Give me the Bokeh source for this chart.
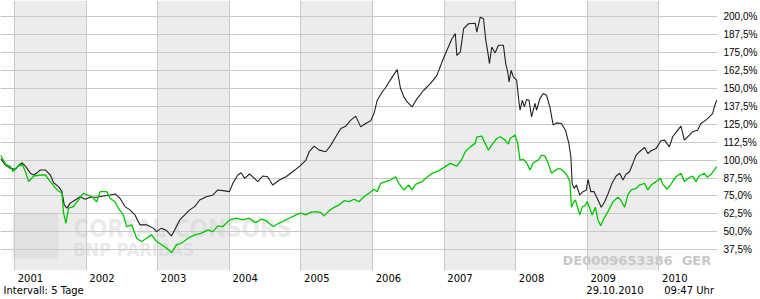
from bokeh.plotting import figure
from bokeh.models import Range1d, FixedTicker, LinearAxis
from bokeh.core.properties import value
from bokeh.embed import file_html
from bokeh.resources import INLINE

# ---- data (decimal years, performance in %) ----
fund_t = [2000.805, 2000.875, 2000.944, 2001.014, 2001.06, 2001.107, 2001.153, 2001.223, 2001.268, 2001.316,
          2001.362, 2001.431, 2001.501, 2001.547, 2001.616, 2001.663, 2001.695, 2001.733, 2001.779, 2001.848,
          2001.918, 2001.987, 2002.057, 2002.150, 2002.242, 2002.335, 2002.405, 2002.474, 2002.544, 2002.613,
          2002.683, 2002.752, 2002.846, 2002.937, 2002.985, 2003.054, 2003.124, 2003.193, 2003.239, 2003.309,
          2003.378, 2003.448, 2003.517, 2003.587, 2003.680, 2003.772, 2003.841, 2003.911, 2004.004, 2004.050,
          2004.120, 2004.167, 2004.213, 2004.282, 2004.352, 2004.398, 2004.467, 2004.537, 2004.606, 2004.700,
          2004.793, 2004.885, 2004.978, 2005.071, 2005.117, 2005.186, 2005.256, 2005.349, 2005.419, 2005.488,
          2005.558, 2005.627, 2005.697, 2005.766, 2005.836, 2005.905, 2005.975, 2006.021, 2006.067, 2006.136,
          2006.184, 2006.253, 2006.345, 2006.392, 2006.438, 2006.484, 2006.554, 2006.623, 2006.716, 2006.809,
          2006.901, 2006.971, 2007.040, 2007.110, 2007.157, 2007.179, 2007.227, 2007.273, 2007.342, 2007.435,
          2007.458, 2007.505, 2007.551, 2007.583, 2007.611, 2007.634, 2007.666, 2007.713, 2007.759, 2007.829,
          2007.861, 2007.889, 2007.908, 2007.936, 2007.968, 2008.014, 2008.038, 2008.061, 2008.093, 2008.121,
          2008.153, 2008.186, 2008.222, 2008.270, 2008.292, 2008.339, 2008.385, 2008.431, 2008.478, 2008.524,
          2008.570, 2008.640, 2008.696, 2008.743, 2008.771, 2008.789, 2008.816, 2008.848, 2008.895, 2008.941,
          2008.987, 2009.011, 2009.049, 2009.095, 2009.150, 2009.196, 2009.243, 2009.289, 2009.345, 2009.404,
          2009.452, 2009.498, 2009.544, 2009.591, 2009.637, 2009.683, 2009.730, 2009.800, 2009.846, 2009.892,
          2009.961, 2010.031, 2010.078, 2010.147, 2010.193, 2010.263, 2010.309, 2010.356, 2010.402, 2010.471,
          2010.541, 2010.587, 2010.656, 2010.704, 2010.750, 2010.782, 2010.809]
fund_v = [101.0, 96.5, 94.2, 93.5, 96.5, 98.1, 95.8, 90.8, 89.6, 91.2,
          93.1, 93.1, 89.6, 84.2, 81.5, 78.0, 68.75, 66.5, 70.0, 72.2,
          74.5, 72.7, 74.1, 74.1, 75.0, 75.7, 76.4, 73.4, 67.6, 65.3,
          61.8, 54.9, 54.9, 52.6, 50.2, 52.6, 50.9, 47.2, 51.4, 58.3,
          61.8, 65.3, 67.6, 72.2, 74.5, 75.7, 79.2, 78.7, 78.0, 83.8,
          89.6, 91.2, 87.3, 90.3, 87.3, 85.0, 88.9, 88.4, 82.6, 86.1,
          88.4, 91.9, 95.4, 100.0, 105.8, 109.7, 106.9, 105.8, 110.4, 116.2,
          122.0, 123.6, 127.8, 130.6, 123.1, 125.5, 127.3, 132.4, 141.7, 147.4,
          150.5, 156.0, 163.0, 149.8, 144.0, 140.5, 137.0, 142.8, 148.6, 153.2,
          159.0, 168.3, 176.4, 184.5, 188.0, 172.9, 175.2, 191.5, 194.9, 195.3,
          189.1, 199.5, 198.4, 183.3, 175.2, 167.2, 178.7, 174.5, 179.9, 179.9,
          167.2, 161.3, 154.4, 162.5, 157.9, 155.6, 144.0, 134.7, 141.7, 137.0,
          142.2, 141.7, 130.1, 139.4, 134.7, 142.8, 146.3, 145.1, 137.0, 124.3,
          125.9, 125.5, 120.8, 111.6, 102.3, 83.8, 80.3, 82.6, 75.7, 78.0,
          79.2, 86.6, 78.0, 78.0, 72.2, 67.1, 71.0, 76.4, 83.8, 88.9,
          90.8, 86.1, 90.3, 91.9, 97.7, 103.5, 105.8, 108.8, 104.6, 106.5,
          108.1, 113.4, 113.9, 109.2, 116.2, 120.8, 123.6, 113.9, 116.2, 119.7,
          120.8, 125.5, 127.8, 130.1, 132.4, 138.2, 141.7]

bench_t = [2000.805, 2000.875, 2000.944, 2000.982, 2001.038, 2001.107, 2001.153, 2001.199, 2001.268, 2001.362,
           2001.431, 2001.501, 2001.594, 2001.663, 2001.686, 2001.719, 2001.755, 2001.825, 2001.894, 2001.964,
           2002.011, 2002.081, 2002.150, 2002.196, 2002.289, 2002.335, 2002.405, 2002.451, 2002.520, 2002.567,
           2002.637, 2002.707, 2002.776, 2002.846, 2002.915, 2002.985, 2003.054, 2003.124, 2003.193, 2003.263,
           2003.332, 2003.424, 2003.517, 2003.611, 2003.702, 2003.772, 2003.841, 2003.911, 2004.004, 2004.097,
           2004.189, 2004.282, 2004.338, 2004.376, 2004.445, 2004.515, 2004.561, 2004.616, 2004.676, 2004.745,
           2004.839, 2004.932, 2005.001, 2005.071, 2005.140, 2005.210, 2005.280, 2005.325, 2005.395, 2005.465,
           2005.534, 2005.604, 2005.673, 2005.743, 2005.812, 2005.882, 2005.951, 2006.021, 2006.067, 2006.114,
           2006.184, 2006.253, 2006.323, 2006.369, 2006.438, 2006.508, 2006.554, 2006.601, 2006.693, 2006.762,
           2006.832, 2006.925, 2007.018, 2007.087, 2007.179, 2007.249, 2007.296, 2007.366, 2007.435, 2007.458,
           2007.527, 2007.574, 2007.620, 2007.666, 2007.736, 2007.783, 2007.852, 2007.898, 2007.922, 2007.992,
           2008.028, 2008.061, 2008.107, 2008.153, 2008.200, 2008.246, 2008.316, 2008.362, 2008.409, 2008.455,
           2008.501, 2008.570, 2008.618, 2008.677, 2008.723, 2008.757, 2008.779, 2008.803, 2008.835, 2008.896,
           2008.932, 2008.965, 2009.001, 2009.035, 2009.067, 2009.113, 2009.150, 2009.188, 2009.234, 2009.289,
           2009.359, 2009.428, 2009.466, 2009.521, 2009.567, 2009.613, 2009.683, 2009.730, 2009.800, 2009.846,
           2009.892, 2009.961, 2010.022, 2010.054, 2010.114, 2010.170, 2010.239, 2010.309, 2010.356, 2010.411,
           2010.471, 2010.517, 2010.563, 2010.633, 2010.678, 2010.748, 2010.809]
bench_v = [103.5, 97.2, 95.4, 91.9, 95.4, 97.2, 91.9, 85.0, 88.9, 89.6,
           89.6, 85.0, 79.2, 76.9, 63.0, 56.0, 66.5, 67.6, 72.2, 76.9,
           75.7, 74.5, 71.0, 78.0, 78.0, 73.4, 71.0, 66.5, 61.8, 53.7,
           54.9, 45.6, 43.3, 45.6, 47.9, 43.3, 41.0, 38.7, 35.6, 41.0,
           42.1, 45.6, 47.9, 49.1, 51.4, 50.2, 54.2, 53.7, 58.3, 59.5,
           58.3, 59.5, 57.2, 56.5, 58.8, 57.8, 55.6, 53.7, 55.6, 57.2,
           59.5, 61.8, 63.0, 61.8, 63.7, 64.1, 63.4, 61.1, 64.8, 67.1,
           68.75, 71.7, 71.0, 72.7, 71.0, 74.5, 76.9, 79.7, 78.0, 83.8,
           85.0, 86.1, 88.4, 83.8, 79.2, 82.6, 79.2, 83.1, 85.0, 88.0,
           90.8, 92.6, 95.4, 97.7, 95.8, 100.6, 105.8, 109.2, 111.6, 116.2,
           116.7, 111.6, 106.9, 110.4, 115.0, 116.2, 113.9, 111.1, 115.0, 117.4,
           111.6, 100.0, 100.5, 98.1, 93.1, 98.1, 100.0, 103.5, 102.8, 97.7,
           90.8, 93.5, 94.2, 91.9, 88.9, 85.0, 67.1, 70.0, 72.2, 61.8,
           67.6, 68.1, 71.0, 66.5, 61.8, 67.1, 58.3, 54.2, 59.5, 64.1,
           71.0, 74.1, 72.2, 67.1, 75.7, 79.2, 80.3, 82.6, 83.8, 79.2,
           82.6, 85.0, 87.3, 83.3, 79.7, 83.3, 88.4, 90.8, 85.0, 87.3,
           88.9, 85.0, 88.9, 90.8, 88.0, 91.2, 95.4]

years = [2001, 2002, 2003, 2004, 2005, 2006, 2007, 2008, 2009, 2010]
shaded_years = [2001, 2003, 2005, 2007, 2009]
y_ticks = [37.5, 50.0, 62.5, 75.0, 87.5, 100.0, 112.5, 125.0, 137.5, 150.0, 162.5, 175.0, 187.5, 200.0]
y_labels = ["37,5%", "50,0%", "62,5%", "75,0%", "87,5%", "100,0%", "112,5%", "125,0%",
            "137,5%", "150,0%", "162,5%", "175,0%", "187,5%", "200,0%"]
year_labels = ["2001", "2002", "2003", "2004", "2005", "2006", "2007", "2008", "2009", "2010"]
isin_text = "DE0009653386\u00a0 GER"
footer_texts = ["Intervall: 5 Tage", "29.10.2010", "09:47 Uhr"]

# ---- layout constants ----
X0, X1 = 2000.805, 2010.819
Y0, Y1 = 23.1, 211.1
LABEL_SHIFT = 0.2225
FOOTER_POS = [2001.4075, 2009.387, 2010.423]
GRID = "#c8c8c8"

p = figure(width=760, height=299, x_range=Range1d(X0, X1), y_range=Range1d(Y0, Y1),
           output_backend="svg", toolbar_location=None, y_axis_location="right",
           min_border_left=0, min_border_top=0, min_border_right=40, min_border_bottom=29)
p.outline_line_color = None
p.background_fill_color = "white"
p.border_fill_color = "white"

# alternating year bands
p.quad(left=shaded_years, right=[y + 1 for y in shaded_years], bottom=Y0, top=Y1,
       fill_color="#ececec", line_color=None, level="image")

# watermark
p.quad(left=[2000.972], right=[2001.612], bottom=[31.5], top=[63.5],
       fill_color="#cfcfcf", fill_alpha=0.35, line_color=None, level="image")
p.text(x=[2001.82], y=[52.3], text=["CORTAL CONSORS"], text_font=value("DejaVu Sans Condensed"),
       text_font_style="bold", text_font_size=value("24px"), text_color="#cfcfcf", text_alpha=0.45,
       text_align="left", text_baseline="middle", level="image")
p.text(x=[2001.82], y=[37.6], text=["BNP PARIBAS"], text_font=value("DejaVu Sans Condensed"),
       text_font_style="bold", text_font_size=value("18px"), text_color="#cfcfcf", text_alpha=0.45,
       text_align="left", text_baseline="middle", level="image")
p.text(x=[2009.693], y=[30.0], text=[isin_text], text_font=value("DejaVu Sans"),
       text_font_style="bold", text_font_size=value("13px"), text_color="#c8c8c8",
       text_align="center", text_baseline="middle", level="image")

# grids
p.ygrid.ticker = FixedTicker(ticks=y_ticks)
p.ygrid.grid_line_color = GRID
p.ygrid.grid_line_width = 1
p.xgrid.ticker = FixedTicker(ticks=years)
p.xgrid.grid_line_color = GRID
p.xgrid.grid_line_width = 1

# series
p.line(fund_t, fund_v, line_color="#222222", line_width=1.1)
p.line(bench_t, bench_v, line_color="#00c800", line_width=1.3)


def plain_axis(ax, standoff, font, size):
    ax.axis_line_color = None
    ax.major_tick_line_color = None
    ax.minor_tick_line_color = None
    ax.major_tick_out = 0
    ax.major_tick_in = 0
    ax.major_label_standoff = standoff
    ax.major_label_text_font = font
    ax.major_label_text_font_size = size
    ax.major_label_text_color = "#000000"


ya = p.yaxis[0]
ya.ticker = FixedTicker(ticks=y_ticks)
ya.major_label_overrides = {t: l for t, l in zip(y_ticks, y_labels)}
plain_axis(ya, 6, "Liberation Sans", "10px")

xa = p.xaxis[0]
x_tick_pos = [y + LABEL_SHIFT for y in years]
xa.ticker = FixedTicker(ticks=x_tick_pos)
xa.major_label_overrides = {t: l for t, l in zip(x_tick_pos, year_labels)}
plain_axis(xa, 3, "DejaVu Sans", "10px")

# footer line as a second bottom axis
fa = LinearAxis(ticker=FixedTicker(ticks=FOOTER_POS))
fa.major_label_overrides = {t: l for t, l in zip(FOOTER_POS, footer_texts)}
plain_axis(fa, 0, "DejaVu Sans", "10px")
p.add_layout(fa, "below")

open("out.html", "w").write(file_html(p, INLINE))
